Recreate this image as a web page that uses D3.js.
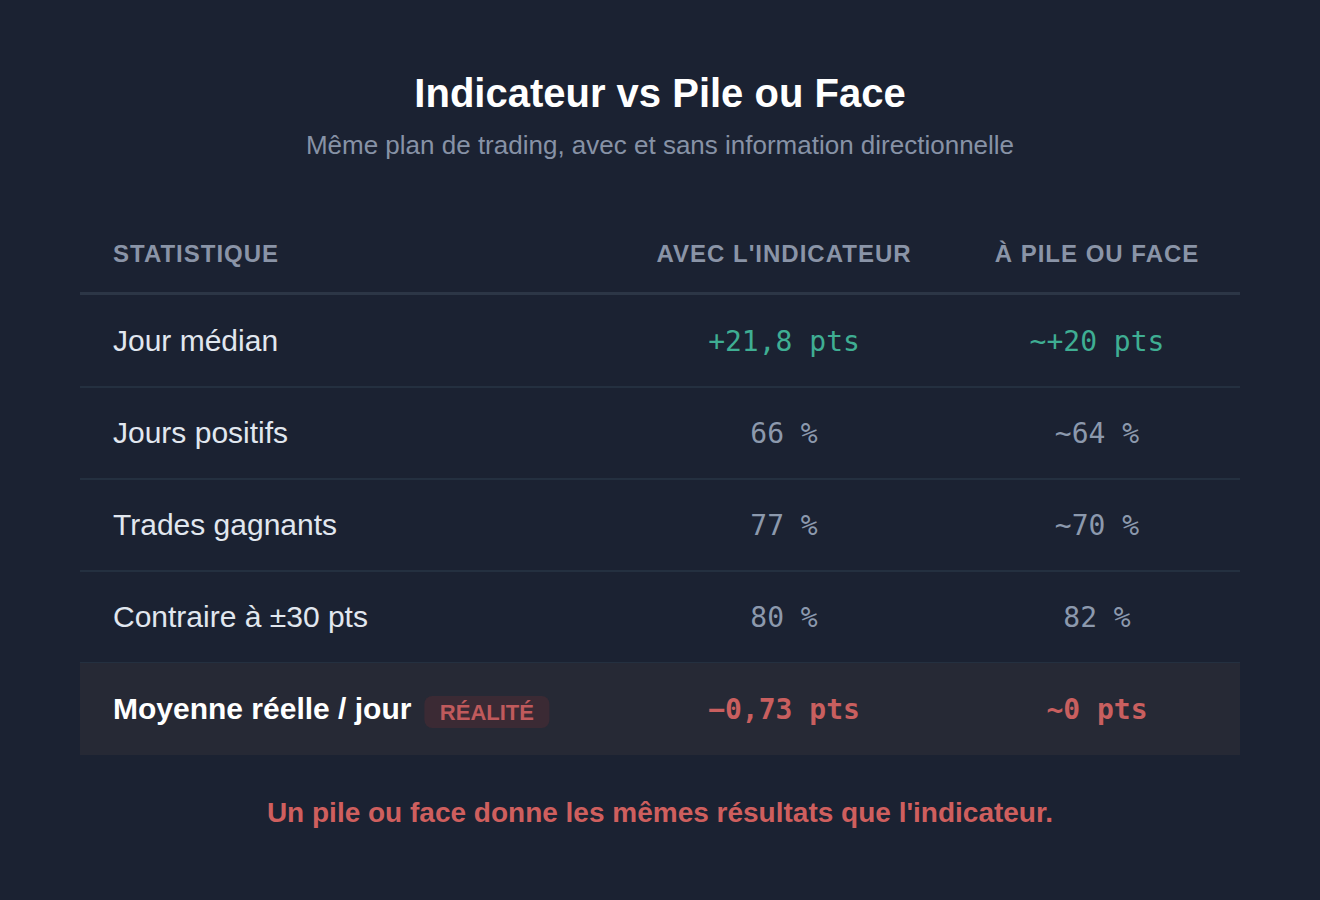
<!DOCTYPE html>
<html>
<head>
<meta charset="utf-8">
<script src="https://cdn.jsdelivr.net/npm/d3@7"></script>
<style>
  html, body { margin: 0; padding: 0; background: #1b2232; }
  svg { display: block; }
</style>
</head>
<body>
<script>
const w = 1320;
const h = 900;

// données du tableau
const columns = ["Statistique", "Avec l'indicateur", "À pile ou face"];
const statistics = ["Jour médian", "Jours positifs", "Trades gagnants", "Contraire à ±30 pts", "Moyenne réelle / jour"];
const withIndicator = ["+21,8 pts", "66 %", "77 %", "80 %", "−0,73 pts"];
const coinFlip = ["~+20 pts", "~64 %", "~70 %", "82 %", "~0 pts"];
const tones = ["good", "neutral", "neutral", "neutral", "bad"];

const toneColor = { good: "#3fae93", neutral: "#8c99ad", bad: "#c95f5f" };

const rows = statistics.map(function (s, i) {
  return { label: s, a: withIndicator[i], b: coinFlip[i], tone: tones[i], last: i === statistics.length - 1 };
});

const left = 80, right = 1240;
const yScale = d3.scaleBand().domain(statistics).range([295, 755]);
const colX = d3.scaleOrdinal().domain(columns).range([113, 784, 1097]);

const sans = "'Liberation Sans', Arial, sans-serif";
const mono = "'DejaVu Sans Mono', monospace";

const svg = d3.select("body").append("svg").attr("width", w).attr("height", h);
svg.append("rect").attr("width", w).attr("height", h).attr("fill", "#1b2232");

// titre
svg.append("text")
  .attr("x", w / 2).attr("y", 107)
  .attr("text-anchor", "middle")
  .attr("font-family", sans).attr("font-weight", "bold").attr("font-size", 40)
  .attr("fill", "#ffffff")
  .text("Indicateur vs Pile ou Face");

svg.append("text")
  .attr("x", w / 2).attr("y", 154)
  .attr("text-anchor", "middle")
  .attr("font-family", sans).attr("font-size", 26)
  .attr("fill", "#8792a6")
  .text("Même plan de trading, avec et sans information directionnelle");

// en-têtes
svg.selectAll("text.head")
  .data(columns)
  .enter()
  .append("text")
  .attr("class", "head")
  .attr("x", function (d) { return colX(d); })
  .attr("y", 262)
  .attr("text-anchor", function (d, i) { return i === 0 ? "start" : "middle"; })
  .attr("font-family", sans).attr("font-weight", "bold").attr("font-size", 24)
  .attr("letter-spacing", 1)
  .attr("fill", "#8a94a7")
  .text(function (d) { return d.toUpperCase(); });

svg.append("rect")
  .attr("x", left).attr("y", yScale.range()[0] - 3)
  .attr("width", right - left).attr("height", 3)
  .attr("fill", "#2c3646");

// lignes
const row = svg.selectAll("g.row")
  .data(rows)
  .enter()
  .append("g")
  .attr("class", "row")
  .attr("transform", function (d) { return "translate(0," + yScale(d.label) + ")"; });

row.append("rect")
  .attr("x", left).attr("y", 0)
  .attr("width", right - left).attr("height", yScale.bandwidth())
  .attr("fill", function (d) { return d.last ? "#262935" : "none"; });

row.filter(function (d) { return !d.last; })
  .append("rect")
  .attr("x", left).attr("y", yScale.bandwidth() - 1)
  .attr("width", right - left).attr("height", 2)
  .attr("fill", "#243040");

const mid = yScale.bandwidth() / 2;

row.append("text")
  .attr("class", "label")
  .attr("x", colX(columns[0]))
  .attr("y", mid + 10)
  .attr("font-family", sans).attr("font-size", 30)
  .attr("font-weight", function (d) { return d.last ? "bold" : "normal"; })
  .attr("fill", function (d) { return d.last ? "#ffffff" : "#e1e7ef"; })
  .text(function (d) { return d.label; });

row.append("text")
  .attr("x", colX(columns[1]))
  .attr("y", mid + 10)
  .attr("text-anchor", "middle")
  .attr("font-family", mono).attr("font-size", 28)
  .attr("font-weight", function (d) { return d.last ? "bold" : "normal"; })
  .attr("fill", function (d) { return toneColor[d.tone]; })
  .text(function (d) { return d.a; });

row.append("text")
  .attr("x", colX(columns[2]))
  .attr("y", mid + 10)
  .attr("text-anchor", "middle")
  .attr("font-family", mono).attr("font-size", 28)
  .attr("font-weight", function (d) { return d.last ? "bold" : "normal"; })
  .attr("fill", function (d) { return toneColor[d.tone]; })
  .text(function (d) { return d.b; });

// badge "réalité" sur la dernière ligne
const lastRow = row.filter(function (d) { return d.last; });
const labelW = lastRow.select("text.label").node().getComputedTextLength();
const badgeX = colX(columns[0]) + labelW + 13;
const badge = lastRow.append("g").attr("transform", "translate(" + badgeX + "," + (mid - 13) + ")");
badge.append("rect")
  .attr("width", 125).attr("height", 32).attr("rx", 8)
  .attr("fill", "#3b2a34");
badge.append("text")
  .attr("x", 62.5).attr("y", 24)
  .attr("text-anchor", "middle")
  .attr("font-family", sans).attr("font-weight", "bold").attr("font-size", 22)
  .attr("fill", "#c05a5c")
  .text("RÉALITÉ");

// conclusion
svg.append("text")
  .attr("x", w / 2).attr("y", 822)
  .attr("text-anchor", "middle")
  .attr("font-family", sans).attr("font-weight", "bold").attr("font-size", 28)
  .attr("fill", "#cf5f5e")
  .text("Un pile ou face donne les mêmes résultats que l'indicateur.");
</script>
</body>
</html>
